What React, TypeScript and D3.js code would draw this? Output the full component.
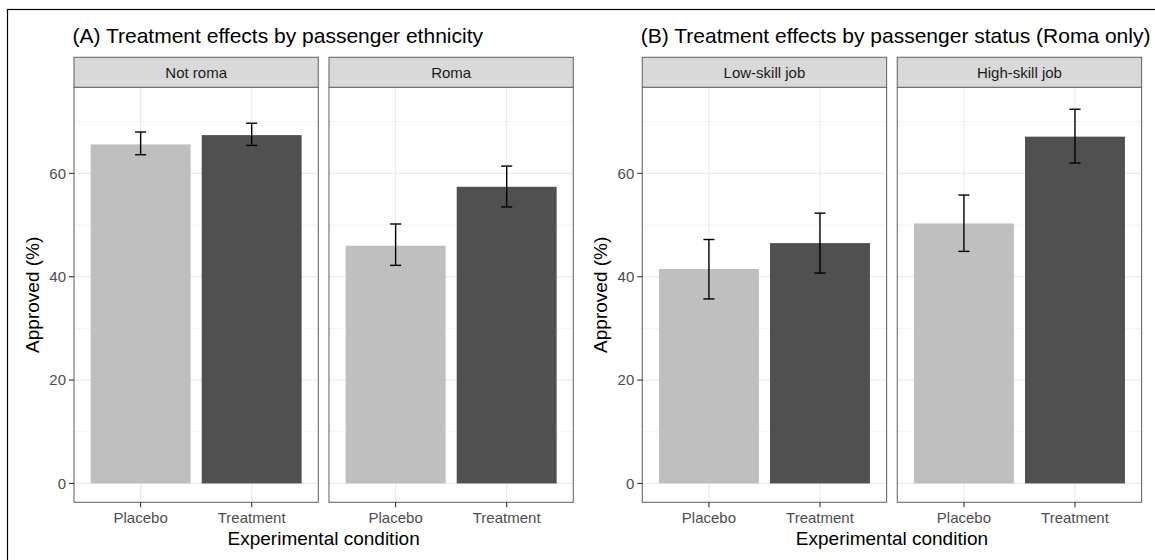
import * as d3 from 'd3';

// values (approval %, with CI bounds)
const conditions = ['Placebo', 'Treatment'];

const facetsA = ['Not roma', 'Roma'];
const approvedA = [[65.6, 67.4], [46.0, 57.4]];
const lowerA = [[63.6, 65.4], [42.2, 53.5]];
const upperA = [[68.0, 69.7], [50.2, 61.4]];

const facetsB = ['Low-skill job', 'High-skill job'];
const approvedB = [[41.5, 46.5], [50.3, 67.1]];
const lowerB = [[35.7, 40.7], [44.9, 62.0]];
const upperB = [[47.2, 52.3], [55.8, 72.4]];

const yLimits = [0, 73];
const yTicks = [0, 20, 40, 60];
const yMinorTicks = [10, 30, 50, 70];

const titleA = '(A) Treatment effects by passenger ethnicity';
const titleB = '(B) Treatment effects by passenger status (Roma only)';
const xTitle = 'Experimental condition';
const yTitle = 'Approved (%)';

const W = 1155, H = 560;
const FONT = '"Liberation Sans", Arial, Helvetica, sans-serif';
const fills: Record<string, string> = { Placebo: '#bfbfbf', Treatment: '#505050' };

const panelTop = 87.3, panelBottom = 502.3;
const stripTop = 57.3;
const panelW = 244.3, panelGap = 10.7;

const span = yLimits[1] - yLimits[0];
const y = d3.scaleLinear()
  .domain([yLimits[0] - span * 0.05, yLimits[1] + span * 0.05])
  .range([panelBottom, panelTop]);

interface FacetProps {
  left: number;
  label: string;
  values: number[];
  lo: number[];
  hi: number[];
  showY: boolean;
}

function Facet({ left, label, values, lo, hi, showY }: FacetProps) {
  const x = d3.scalePoint<string>().domain(conditions).range([left, left + panelW]).padding(0.6);
  const step = x.step();
  const bw = step * 0.9;
  const ew = step * 0.05;
  return (
    <g>
      {/* grid */}
      {yMinorTicks.map(t => (
        <line key={'mn' + t} x1={left} x2={left + panelW} y1={y(t)} y2={y(t)} stroke="#ebebeb" strokeWidth={0.6} />
      ))}
      {yTicks.map(t => (
        <line key={'mj' + t} x1={left} x2={left + panelW} y1={y(t)} y2={y(t)} stroke="#ebebeb" strokeWidth={1.2} />
      ))}
      {conditions.map(c => (
        <line key={'vx' + c} x1={x(c)} x2={x(c)} y1={panelTop} y2={panelBottom} stroke="#ebebeb" strokeWidth={1.2} />
      ))}
      {/* bars */}
      {conditions.map((c, i) => (
        <rect key={'b' + c} x={x(c)! - bw / 2} width={bw} y={y(values[i])} height={y(0) - y(values[i])} fill={fills[c]} />
      ))}
      {/* error bars */}
      {conditions.map((c, i) => {
        const cx = x(c)!;
        return (
          <g key={'e' + c} stroke="#000" strokeWidth={1.4}>
            <line x1={cx} x2={cx} y1={y(lo[i])} y2={y(hi[i])} />
            <line x1={cx - ew} x2={cx + ew} y1={y(lo[i])} y2={y(lo[i])} />
            <line x1={cx - ew} x2={cx + ew} y1={y(hi[i])} y2={y(hi[i])} />
          </g>
        );
      })}
      {/* panel border */}
      <rect x={left} y={panelTop} width={panelW} height={panelBottom - panelTop} fill="none" stroke="#6b6b6b" strokeWidth={1.1} />
      {/* strip */}
      <rect x={left} y={stripTop} width={panelW} height={panelTop - stripTop} fill="#d9d9d9" stroke="#6b6b6b" strokeWidth={1.1} />
      <text x={left + panelW / 2} y={(stripTop + panelTop) / 2} dy="0.36em" textAnchor="middle" fontSize={15} fill="#1a1a1a">{label}</text>
      {/* x axis */}
      {conditions.map(c => (
        <g key={'xt' + c}>
          <line x1={x(c)} x2={x(c)} y1={panelBottom} y2={panelBottom + 5} stroke="#333" strokeWidth={1.1} />
          <text x={x(c)} y={523} textAnchor="middle" fontSize={15} fill="#4d4d4d">{c}</text>
        </g>
      ))}
      {/* y axis */}
      {showY && yTicks.map(t => (
        <g key={'yt' + t}>
          <line x1={left - 5} x2={left} y1={y(t)} y2={y(t)} stroke="#333" strokeWidth={1.1} />
          <text x={left - 8} y={y(t)} dy="0.36em" textAnchor="end" fontSize={15} fill="#4d4d4d">{t}</text>
        </g>
      ))}
    </g>
  );
}

interface PlotProps {
  left: number;
  title: string;
  facets: string[];
  values: number[][];
  lo: number[][];
  hi: number[][];
}

function Plot({ left, title, facets, values, lo, hi }: PlotProps) {
  const right = left + panelW * 2 + panelGap;
  const midY = (panelTop + panelBottom) / 2;
  return (
    <g>
      <text x={left - 1.5} y={43.3} fontSize={21} fill="#000">{title}</text>
      {facets.map((f, i) => (
        <Facet key={f} left={left + i * (panelW + panelGap)} label={f}
          values={values[i]} lo={lo[i]} hi={hi[i]} showY={i === 0} />
      ))}
      <text x={(left + right) / 2} y={545} textAnchor="middle" fontSize={19} fill="#000">{xTitle}</text>
      <text transform={`translate(${left - 35},${midY}) rotate(-90)`} textAnchor="middle" fontSize={19} fill="#000">{yTitle}</text>
    </g>
  );
}

export default function App() {
  return (
    <svg width={W} height={H} style={{ position: 'absolute', left: 0, top: 0, background: '#fff' }}
      fontFamily={FONT}>
      <rect x={0} y={0} width={W} height={H} fill="#fff" />
      <Plot left={74} title={titleA} facets={facetsA} values={approvedA} lo={lowerA} hi={upperA} />
      <Plot left={642.3} title={titleB} facets={facetsB} values={approvedB} lo={lowerB} hi={upperB} />
      <rect x={7.5} y={9.5} width={W + 20} height={H + 20} fill="none" stroke="#000" strokeWidth={1.2} />
    </svg>
  );
}
